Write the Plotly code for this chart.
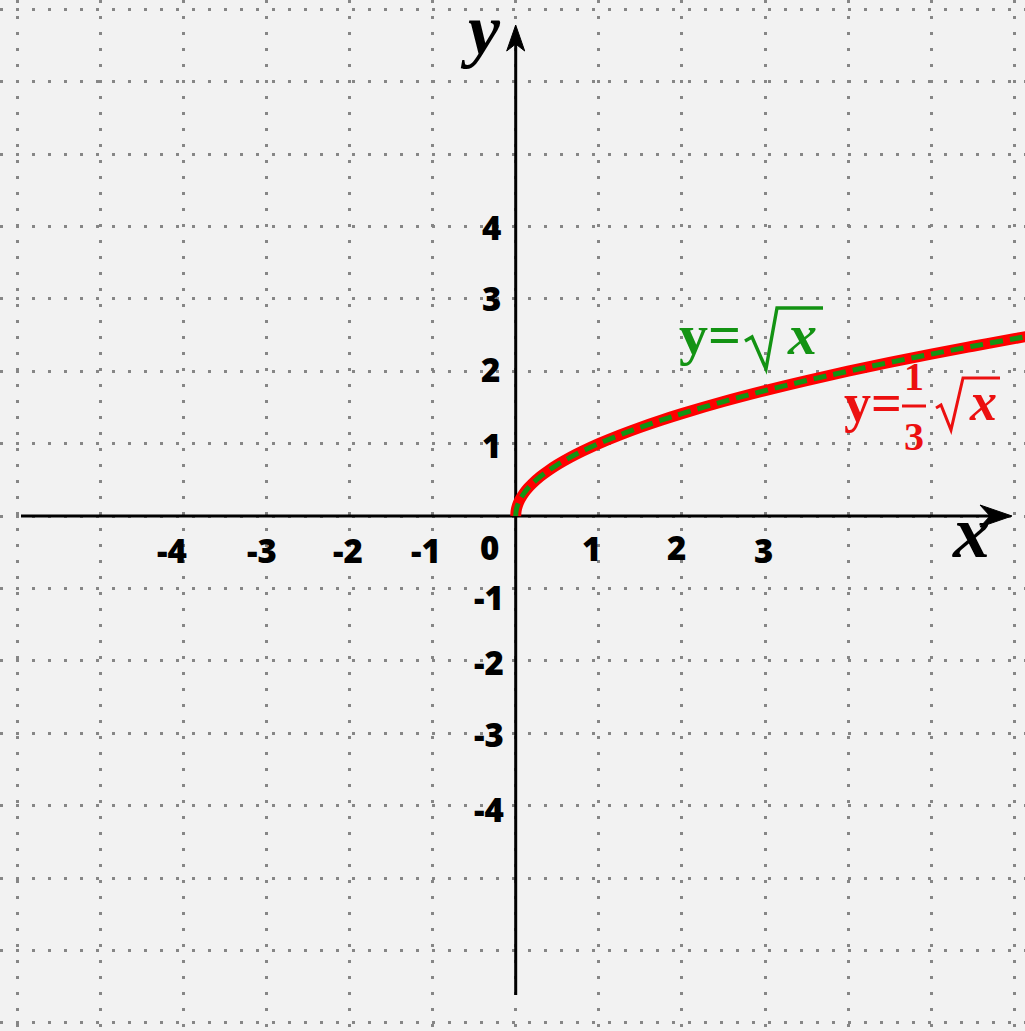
import plotly.graph_objects as go

# Sample points along the curve y = sqrt(x)
x_vals = [0, 0.005, 0.02, 0.05, 0.1, 0.15, 0.2, 0.3, 0.4, 0.5, 0.65, 0.8, 1.0,
          1.25, 1.5, 1.75, 2.0, 2.5, 3.0, 3.5, 4.0, 4.5, 5.0, 5.5, 6.0, 6.2]
y_vals = [0, 0.071, 0.141, 0.224, 0.316, 0.387, 0.447, 0.548, 0.632, 0.707, 0.806, 0.894, 1.0,
          1.118, 1.225, 1.323, 1.414, 1.581, 1.732, 1.871, 2.0, 2.121, 2.236, 2.345, 2.449, 2.490]

# Tick labels and where they sit (data coordinates)
x_tick_text = ["-4", "-3", "-2", "-1", "0", "1", "2", "3"]
x_tick_pos = [-4.14, -3.05, -2.02, -1.08, -0.31, 0.91, 1.93, 2.98]
x_tick_ypos = [-0.48, -0.48, -0.48, -0.48, -0.43, -0.45, -0.44, -0.47]

y_tick_text = ["4", "3", "2", "1", "-1", "-2", "-3", "-4"]
y_tick_pos = [3.99, 3.01, 2.02, 0.98, -1.12, -2.02, -3.02, -4.05]
y_tick_xpos = [-0.29, -0.29, -0.30, -0.29, -0.32, -0.32, -0.32, -0.32]

# Pixel geometry of the coordinate plane
W, H = 1025, 1031
X0, XU = 515.7, 83.1   # pixel of x=0, pixels per unit
Y0, YU = 516.0, 72.4   # pixel of y=0, pixels per unit


def dx(px):
    return (px - X0) / XU


def dy(py):
    return (Y0 - py) / YU


BG = "#f2f2f2"
GRID = "#868686"
RED = "#ff0000"
RED_TXT = "#ec1010"
GREEN = "#139313"
SERIF = "Liberation Serif"
SANS = "Open Sans"

fig = go.Figure()

fig.add_trace(go.Scatter(
    x=x_vals, y=y_vals, mode="lines",
    line=dict(color=RED, width=11, shape="spline"),
    hoverinfo="skip", showlegend=False))
fig.add_trace(go.Scatter(
    x=x_vals, y=y_vals, mode="lines",
    line=dict(color=GREEN, width=5, dash="13px,7px", shape="spline"),
    hoverinfo="skip", showlegend=False))

shapes = []
# x axis with arrow
shapes.append(dict(type="line", xref="x", yref="y", x0=dx(21), x1=dx(1000), y0=0, y1=0,
                   line=dict(color="black", width=3), layer="between"))
shapes.append(dict(type="path", xref="x", yref="y", xsizemode="pixel", ysizemode="pixel",
                   xanchor=dx(1012), yanchor=0,
                   path="M0,0 L-32,11 L-22,0 L-32,-11 Z",
                   fillcolor="black", line=dict(color="black", width=1), layer="between"))
# y axis with arrow
shapes.append(dict(type="line", xref="x", yref="y", x0=0, x1=0, y0=dy(995), y1=dy(40),
                   line=dict(color="black", width=3), layer="between"))
shapes.append(dict(type="path", xref="x", yref="y", xsizemode="pixel", ysizemode="pixel",
                   xanchor=0, yanchor=dy(25),
                   path="M0,0 L-9,-26 L0,-19 L9,-26 Z",
                   fillcolor="black", line=dict(color="black", width=1), layer="between"))

# radical sign for the green label
shapes.append(dict(type="path", xref="x", yref="y", xsizemode="pixel", ysizemode="pixel",
                   xanchor=dx(745), yanchor=dy(341),
                   path="M0,0 L7,4 L21,-28 L32,33 L78,33",
                   line=dict(color=GREEN, width=3.4), layer="above"))
# fraction bar and radical for the red label
shapes.append(dict(type="line", xref="x", yref="y", x0=dx(902), x1=dx(926), y0=dy(406), y1=dy(406),
                   line=dict(color=RED_TXT, width=3), layer="above"))
shapes.append(dict(type="path", xref="x", yref="y", xsizemode="pixel", ysizemode="pixel",
                   xanchor=dx(936), yanchor=dy(408),
                   path="M0,0 L5,3 L15,-22 L27,30 L64,30",
                   line=dict(color=RED_TXT, width=3), layer="above"))

tick_font = dict(family=SANS, size=33, color="black", weight=800)
annotations = []
for t, xp, yp in zip(x_tick_text, x_tick_pos, x_tick_ypos):
    annotations.append(dict(x=xp, y=yp, text=t, showarrow=False,
                            xanchor="center", yanchor="middle", font=tick_font))
for t, yp, xp in zip(y_tick_text, y_tick_pos, y_tick_xpos):
    annotations.append(dict(x=xp, y=yp, text=t, showarrow=False,
                            xanchor="center", yanchor="middle", font=tick_font))

# axis names
annotations.append(dict(x=dx(480), y=dy(30), text="<b><i>y</i></b>", showarrow=False,
                        xanchor="center", yanchor="middle",
                        font=dict(family=SERIF, size=72, color="black")))
annotations.append(dict(x=dx(971), y=dy(532), text="<b><i>x</i></b>", showarrow=False,
                        xanchor="center", yanchor="middle",
                        font=dict(family=SERIF, size=74, color="black")))

# green label: y = sqrt(x)
annotations.append(dict(x=dx(710), y=dy(334), text="<b>y=</b>", showarrow=False,
                        xanchor="center", yanchor="middle",
                        font=dict(family=SERIF, size=58, color=GREEN)))
annotations.append(dict(x=dx(802), y=dy(334), text="<b><i>x</i></b>", showarrow=False,
                        xanchor="center", yanchor="middle",
                        font=dict(family=SERIF, size=58, color=GREEN)))

# red label: y = 1/3 sqrt(x)
annotations.append(dict(x=dx(873), y=dy(403), text="<b>y=</b>", showarrow=False,
                        xanchor="center", yanchor="middle",
                        font=dict(family=SERIF, size=54, color=RED_TXT)))
annotations.append(dict(x=dx(914), y=dy(376), text="<b>1</b>", showarrow=False,
                        xanchor="center", yanchor="middle",
                        font=dict(family=SERIF, size=40, color=RED_TXT)))
annotations.append(dict(x=dx(914), y=dy(436), text="<b>3</b>", showarrow=False,
                        xanchor="center", yanchor="middle",
                        font=dict(family=SERIF, size=40, color=RED_TXT)))
annotations.append(dict(x=dx(983), y=dy(402), text="<b><i>x</i></b>", showarrow=False,
                        xanchor="center", yanchor="middle",
                        font=dict(family=SERIF, size=54, color=RED_TXT)))

axis_common = dict(showgrid=True, gridcolor=GRID, gridwidth=3, griddash="3px,13px",
                   zeroline=False, showline=False, showticklabels=False, ticks="",
                   dtick=1, tick0=0, fixedrange=True)

fig.update_layout(
    width=W, height=H,
    margin=dict(l=0, r=0, t=0, b=0, pad=0),
    paper_bgcolor=BG, plot_bgcolor=BG,
    xaxis=dict(range=[dx(0), dx(W)], **axis_common),
    yaxis=dict(range=[dy(H), dy(0)], **axis_common),
    shapes=shapes, annotations=annotations,
    showlegend=False,
)

fig.write_html("out.html", config=dict(displayModeBar=False))
